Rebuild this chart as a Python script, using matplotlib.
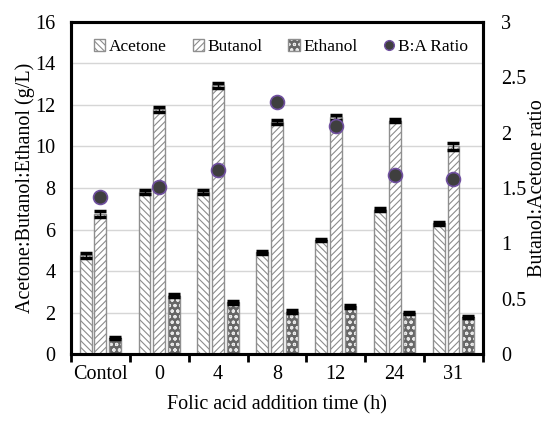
import numpy as np
import matplotlib
matplotlib.use("Agg")
import matplotlib.pyplot as plt
from matplotlib.patches import Patch
from matplotlib.lines import Line2D

plt.rcParams['font.family'] = ['Liberation Serif', 'DejaVu Serif']
plt.rcParams['hatch.linewidth'] = 0.8

# datos
tiempos = ["Contol", "0", "4", "8", "12", "24", "31"]
acetona = [4.75, 7.8, 7.8, 4.9, 5.5, 6.95, 6.3]
butanol = [6.75, 11.8, 12.95, 11.2, 11.4, 11.25, 10.0]
etanol = [0.78, 2.8, 2.5, 2.05, 2.3, 2.0, 1.8]
err_ace = [0.12, 0.08, 0.08, 0.08, 0.06, 0.07, 0.08]
err_but = [0.15, 0.12, 0.12, 0.1, 0.12, 0.08, 0.15]
err_eta = [0.06, 0.07, 0.07, 0.05, 0.06, 0.05, 0.05]
ratio = [1.42, 1.51, 1.66, 2.28, 2.06, 1.62, 1.58]

x = np.arange(len(tiempos))
w = 0.2
paso = 0.25
gris = '#8c8c8c'

fig = plt.figure(figsize=(5.5, 4.22), dpi=100)
ax = fig.add_axes([0.129, 0.161, 0.749, 0.787])
ax2 = ax.twinx()

series = [
    (acetona, err_ace, '\\\\\\\\\\', 'white', gris, "Acetone"),
    (butanol, err_but, '/////', 'white', gris, "Butanol"),
    (etanol, err_eta, 'ooo', '#666666', '#e8e8e8', "Ethanol"),
]
handles = []
labels = []
for i, (vals, err, hatch, fc, hc, nombre) in enumerate(series):
    pos = x + (i - 1) * paso
    ax.bar(pos, vals, w, color=fc, edgecolor='none', zorder=2)
    ax.bar(pos, vals, w, fill=False, hatch=hatch, edgecolor=hc, linewidth=0, zorder=3)
    ax.bar(pos, vals, w, fill=False, edgecolor='#8f8f8f', linewidth=1.0, zorder=4)
    ax.errorbar(pos, vals, yerr=err, fmt='none', ecolor='black', elinewidth=1.0,
                capsize=4.5, capthick=2.5, zorder=5)
    h = (Patch(facecolor=fc, edgecolor='none'),
         Patch(fill=False, hatch=hatch, edgecolor=hc, linewidth=0),
         Patch(fill=False, edgecolor='#8f8f8f', linewidth=1.0))
    handles.append(h)
    labels.append(nombre)

ax2.plot(x, ratio, 'o', markersize=10, markerfacecolor='#3f3f3f',
         markeredgecolor='#7050a0', markeredgewidth=1.2, linestyle='none', zorder=6)
handles.append(Line2D([], [], marker='o', linestyle='none', markersize=7,
                      markerfacecolor='#3f3f3f', markeredgecolor='#7050a0'))
labels.append("B:A Ratio")

ax.set_xlim(-0.5, len(tiempos) - 0.5)
ax.set_ylim(0, 16)
ax.set_yticks(np.arange(0, 17, 2))
ax2.set_ylim(0, 3)
ax2.set_yticks([0, 0.5, 1, 1.5, 2, 2.5, 3])
ax2.set_yticklabels(["0", "0.5", "1", "1.5", "2", "2.5", "3"])

ax.set_xticks(x)
ax.set_xticklabels(tiempos)
ax.set_xticks(np.arange(-0.5, len(tiempos), 1), minor=True)
ax.tick_params(axis='x', which='major', length=0, labelsize=14.5, pad=8)
ax.tick_params(axis='x', which='minor', length=6, width=2, direction='out')
ax.tick_params(axis='y', length=0, labelsize=14.5, pad=11)
ax2.tick_params(axis='y', length=0, labelsize=14.5, pad=13)

ax.yaxis.grid(True, color='#d6d6d6', linewidth=1.0, zorder=0)
ax.set_axisbelow(True)
for a in (ax, ax2):
    for s in a.spines.values():
        s.set_linewidth(2.2)

ax.set_ylabel("Acetone:Butanol:Ethanol (g/L)", fontsize=14.5, labelpad=0)
ax2.set_ylabel("Butanol:Acetone ratio", fontsize=14.5, labelpad=1)
ax.set_xlabel("Folic acid addition time (h)", fontsize=14.5, labelpad=8)

ax2.legend(handles, labels, loc='upper center', ncol=4, frameon=False,
           fontsize=12.5, handlelength=0.65, handleheight=0.65, handletextpad=0.2,
           columnspacing=1.5, bbox_to_anchor=(0.51, 0.995))

fig.savefig("out.png", dpi=100)
